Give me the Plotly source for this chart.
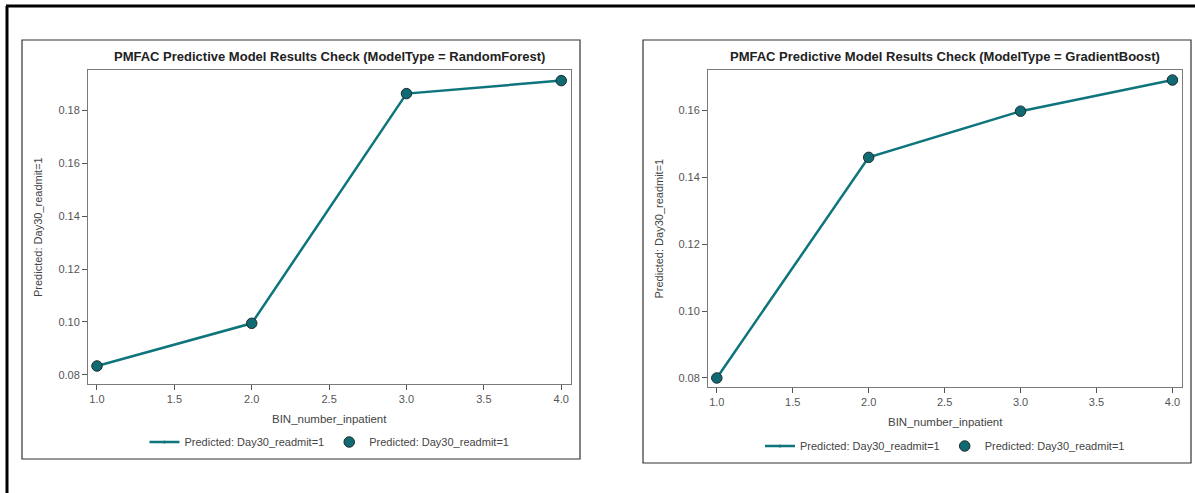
import plotly.graph_objects as go

W, H = 1195, 493

bins = [1, 2, 3, 4]
rf_pred = [0.0834, 0.0995, 0.1862, 0.1911]
gb_pred = [0.0800, 0.1459, 0.1597, 0.1690]

titles = ["PMFAC Predictive Model Results Check (ModelType = RandomForest)",
          "PMFAC Predictive Model Results Check (ModelType = GradientBoost)"]
x_title = "BIN_number_inpatient"
y_title = "Predicted: Day30_readmit=1"
series_name = "Predicted: Day30_readmit=1"

LINE = "#0e757c"
MFILL = "#0f6a71"
MEDGE = "#1c2b2e"
FONT = "Liberation Sans, Arial, sans-serif"

def px(x):
    return x / W

def py(y):
    return 1 - y / H

# plot-area rectangles in pixels (left, top, right, bottom)
areas = [(88, 70, 571, 384), (708, 70, 1182, 387)]
boxes = [(22, 40, 580, 459), (643, 40, 1191, 463)]
yranges = [[0.0766, 0.1951], [0.0773, 0.1720]]
xrange_ = [0.942, 4.063]

fig = go.Figure()

for i, vals in enumerate([rf_pred, gb_pred]):
    ax = "" if i == 0 else "2"
    lg = "legend" if i == 0 else "legend2"
    fig.add_trace(go.Scatter(
        x=bins, y=vals, mode="lines+markers", name=series_name,
        line=dict(color=LINE, width=2.5),
        marker=dict(size=3, color=LINE),
        xaxis="x" + ax, yaxis="y" + ax, legend=lg, showlegend=True))
    fig.add_trace(go.Scatter(
        x=bins, y=vals, mode="markers", name=series_name,
        marker=dict(size=10.5, color=MFILL, line=dict(color=MEDGE, width=1)),
        xaxis="x" + ax, yaxis="y" + ax, legend=lg, showlegend=True))

layout = dict(
    width=W, height=H, margin=dict(l=0, r=0, t=0, b=0),
    paper_bgcolor="white", plot_bgcolor="white",
    font=dict(family=FONT, size=11, color="#444"),
    annotations=[], shapes=[],
)

for i in range(2):
    l, t, r, b = areas[i]
    ax = "" if i == 0 else "2"
    axis_common = dict(showgrid=False, zeroline=False, showline=True, mirror=True,
                       linecolor="#7a7a7a", linewidth=1, ticks="outside", ticklen=5,
                       tickcolor="#555", tickfont=dict(size=11, color="#555", family=FONT))
    layout["xaxis" + ax] = dict(domain=[px(l), px(r)], range=xrange_, dtick=0.5, tick0=1,
                                tickformat=".1f", anchor="y" + ax, **axis_common)
    layout["yaxis" + ax] = dict(domain=[py(b), py(t)], range=yranges[i], dtick=0.02,
                                tickformat=".2f", anchor="x" + ax, **axis_common)
    cx = (l + r) / 2
    layout["annotations"] += [
        dict(text="<b>" + titles[i] + "</b>", x=px(cx), y=py(57), xref="paper", yref="paper",
             xanchor="center", yanchor="middle", showarrow=False,
             font=dict(size=13, color="#222", family=FONT)),
        dict(text=x_title, x=px(cx), y=py(419 if i == 0 else 422), xref="paper", yref="paper",
             xanchor="center", yanchor="middle", showarrow=False,
             font=dict(size=11.5, color="#444", family=FONT)),
        dict(text=y_title, x=px(l - 50), y=py((t + b) / 2), xref="paper", yref="paper",
             xanchor="center", yanchor="middle", showarrow=False, textangle=-90,
             font=dict(size=11, color="#444", family=FONT)),
    ]
    bl, bt, br, bb = boxes[i]
    layout["shapes"].append(dict(type="rect", xref="paper", yref="paper",
                                 x0=px(bl), x1=px(br), y0=py(bb), y1=py(bt),
                                 line=dict(color="#333", width=1.2)))
    layout["legend" + ("" if i == 0 else "2")] = dict(
        orientation="h", x=px(cx), y=py(442 if i == 0 else 446), xref="paper", yref="paper",
        xanchor="center", yanchor="middle", bgcolor="rgba(0,0,0,0)",
        font=dict(size=11, color="#444", family=FONT), itemwidth=30,
        tracegroupgap=0, traceorder="normal")

# outer black frame
layout["shapes"] += [
    dict(type="line", xref="paper", yref="paper", x0=px(6), x1=1.0, y0=py(6), y1=py(6),
         line=dict(color="black", width=3)),
    dict(type="line", xref="paper", yref="paper", x0=px(7), x1=px(7), y0=py(6), y1=0,
         line=dict(color="black", width=3)),
]

fig.update_layout(**layout)
fig.write_html("out.html", config={"displayModeBar": False},
               post_script="document.body.style.margin='0px';document.body.style.overflow='hidden';")
